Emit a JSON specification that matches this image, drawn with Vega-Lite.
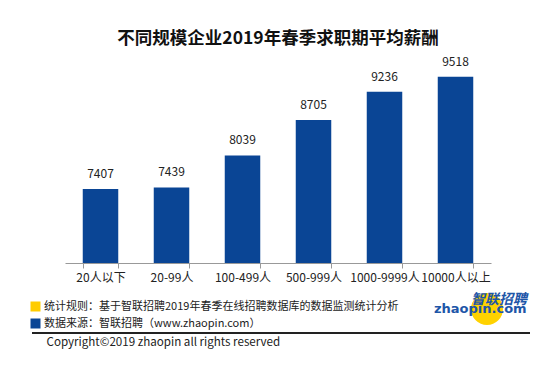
{
  "$schema": "https://vega.github.io/schema/vega-lite/v6.json",
  "width": 426,
  "height": 212,
  "autosize": {"type": "none"},
  "padding": {"left": 65, "top": 51, "right": 59, "bottom": 108},
  "background": "#ffffff",
  "config": {"font": "Noto Sans CJK SC", "view": {"stroke": null}},
  "title": {
    "text": "不同规模企业2019年春季求职期平均薪酬",
    "fontSize": 17.5,
    "fontWeight": "bold",
    "color": "#111111",
    "anchor": "middle",
    "offset": 4
  },
  "data": {
    "values": [
      {"size": "20人以下", "salary": 7407},
      {"size": "20-99人", "salary": 7439},
      {"size": "100-499人", "salary": 8039},
      {"size": "500-999人", "salary": 8705},
      {"size": "1000-9999人", "salary": 9236},
      {"size": "10000人以上", "salary": 9518}
    ]
  },
  "encoding": {
    "x": {
      "field": "size",
      "type": "nominal",
      "sort": null,
      "scale": {"paddingInner": 0.5, "paddingOuter": 0.25},
      "axis": {
        "labelAngle": 0,
        "labelFontSize": 12,
        "labelColor": "#222222",
        "labelPadding": 4,
        "tickBand": "extent",
        "tickSize": 5,
        "tickColor": "#999999",
        "domainColor": "#999999",
        "title": "Copyright©2019 zhaopin all rights reserved",
        "titleFontSize": 11.6,
        "titleFontWeight": "normal",
        "titleColor": "#222222",
        "titleAlign": "left",
        "titleAnchor": "start",
        "titleBaseline": "middle",
        "titleX": -19,
        "titleY": 79
      }
    },
    "y": {
      "field": "salary",
      "type": "quantitative",
      "scale": {"domain": [6020, 10000], "nice": false, "zero": false},
      "axis": null
    }
  },
  "layer": [
    {
      "mark": {"type": "bar", "strokeWidth": 0},
      "encoding": {
        "y2": {"datum": 6020},
        "color": {
          "datum": "数据来源：智联招聘（www.zhaopin.com）",
          "type": "nominal",
          "scale": {
            "domain": ["统计规则：基于智联招聘2019年春季在线招聘数据库的数据监测统计分析", "数据来源：智联招聘（www.zhaopin.com）"],
            "range": ["#FFCC00", "#0A4595"]
          },
          "legend": {
            "orient": "none",
            "legendX": -35,
            "legendY": 250,
            "title": null,
            "symbolType": "square",
            "symbolSize": 100,
            "symbolStrokeWidth": 0,
            "symbolOpacity": 1,
            "labelFontSize": 11,
            "labelColor": "#222222",
            "labelLimit": 1000,
            "labelOffset": 3,
            "rowPadding": 5
          }
        },
        "stroke": {
          "datum": "zhaopin.com",
          "type": "nominal",
          "scale": {"range": ["#FFD200"]},
          "legend": {
            "orient": "none",
            "legendX": 406,
            "legendY": 242,
            "title": "智联招聘",
            "titleFont": "Noto Sans CJK SC",
            "titleFontSize": 14,
            "titleFontWeight": "bold",
            "titleFontStyle": "italic",
            "titleColor": "#1E56A8",
            "titleAnchor": "end",
            "titlePadding": -14,
            "symbolType": "circle",
            "symbolSize": 256,
            "symbolFillColor": "#FFD200",
            "symbolStrokeWidth": 16,
            "symbolOpacity": 1,
            "labelFont": "DejaVu Sans",
            "labelFontSize": 13,
            "labelFontWeight": "bold",
            "labelColor": "#1E56A8",
            "labelOffset": -69,
            "labelLimit": 300,
            "encode": {
              "symbols": {"update": {"fill": {"value": "#FFD200"}, "strokeWidth": {"value": 16}, "opacity": {"value": 1}}}
            }
          }
        }
      }
    },
    {
      "mark": {"type": "text", "baseline": "middle", "dy": -15, "fontSize": 12},
      "encoding": {
        "text": {"field": "salary", "type": "quantitative", "format": "d"},
        "color": {
          "field": "salary",
          "type": "quantitative",
          "scale": {"range": ["#222222", "#222222"]},
          "legend": {
            "type": "gradient",
            "direction": "horizontal",
            "orient": "none",
            "legendX": -33,
            "legendY": 281,
            "gradientLength": 498,
            "gradientThickness": 2,
            "gradientStrokeWidth": 0,
            "gradientOpacity": 1,
            "labelOpacity": 0,
            "labelFontSize": 1,
            "tickCount": 0,
            "title": null
          }
        }
      }
    }
  ],
  "resolve": {"scale": {"color": "independent"}, "legend": {"color": "independent"}}
}
